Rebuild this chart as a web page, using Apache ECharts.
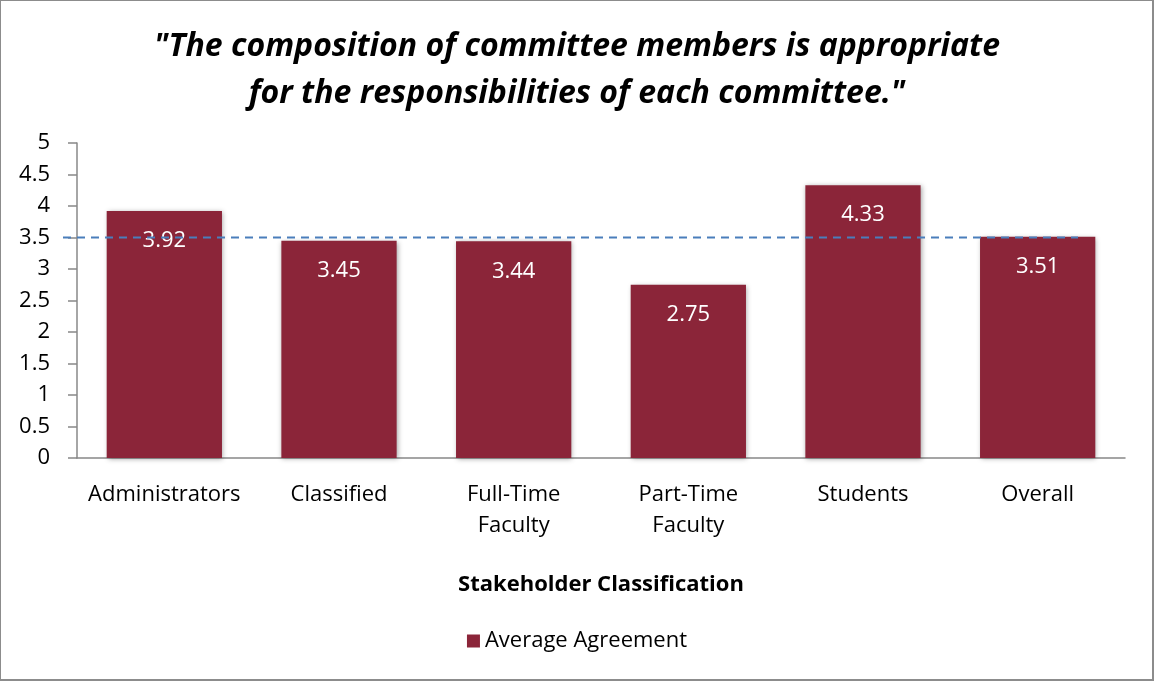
<!DOCTYPE html>
<html><head><meta charset="utf-8">
<script src="https://cdn.jsdelivr.net/npm/echarts@6/dist/echarts.min.js"></script>
<style>
html,body{margin:0;padding:0;background:#fff;}
#frame{position:absolute;left:0;top:0;width:1151px;height:678px;border:1px solid #8c8c8c;border-right:2px solid #8c8c8c;border-bottom:2px solid #8c8c8c;box-sizing:content-box;}
#c{width:1154px;height:681px;position:absolute;left:0;top:0;}
</style></head>
<body><div id="c"></div><div id="frame"></div>
<script>
var categories = ['Administrators','Classified','Full-Time\nFaculty','Part-Time\nFaculty','Students','Overall'];
var values = [3.92, 3.45, 3.44, 2.75, 4.33, 3.51];
var yTicks = [0,0.5,1,1.5,2,2.5,3,3.5,4,4.5,5];
var refValue = 3.5;
var seriesName = 'Average Agreement';
var titleLines = ['"The composition of committee members is appropriate', 'for the responsibilities of each committee."'];
var xAxisTitle = 'Stakeholder Classification';

var FONT = '"Open Sans", sans-serif';
var chart = echarts.init(document.getElementById('c'));
chart.setOption({
  animation:false,
  textStyle:{fontFamily:FONT},
  title:{text:titleLines.join('\n'),left:'center',top:18,
    textStyle:{fontFamily:FONT,fontSize:32,fontWeight:'bold',fontStyle:'italic',color:'#000',lineHeight:47}},
  legend:{bottom:24,left:'center',itemWidth:13,itemHeight:13,icon:'rect',itemGap:6,
    textStyle:{fontFamily:FONT,fontSize:22,color:'#000'},data:[seriesName]},
  grid:{left:77,right:29,top:143,bottom:223,containLabel:false},
  xAxis:{type:'category',data:categories,
    name:xAxisTitle,nameLocation:'middle',nameGap:116,
    nameTextStyle:{fontFamily:FONT,fontSize:22,fontWeight:'bold',color:'#000'},
    axisLine:{lineStyle:{color:'#888',width:1.5}},axisTick:{show:false},
    axisLabel:{fontFamily:FONT,fontSize:22,color:'#000',margin:21,lineHeight:31,interval:0}},
  yAxis:{type:'value',min:0,max:5,interval:0.5,
    axisLine:{show:true,lineStyle:{color:'#888',width:1.5}},
    axisTick:{show:true,inside:false,length:9,lineStyle:{color:'#888',width:1.5}},
    splitLine:{show:false},
    axisLabel:{fontFamily:FONT,fontSize:22,color:'#000',margin:27,
      formatter:function(v){return yTicks.indexOf(v)>=0?String(v):'';}}},
  series:[{name:seriesName,type:'bar',data:values,barCategoryGap:'34%',
    itemStyle:{color:'#8B2539',shadowBlur:5,shadowColor:'rgba(0,0,0,0.35)',shadowOffsetX:1,shadowOffsetY:1},
    label:{show:true,position:'insideTop',distance:19,color:'#fff',fontFamily:FONT,fontSize:22,
      formatter:function(p){return p.value.toFixed(2);}}}]
});
function drawRef(){
  var y = chart.convertToPixel({yAxisIndex:0}, refValue);
  chart.setOption({graphic:[{type:'line',z:100,shape:{x1:63,y1:y,x2:1078,y2:y},
    style:{stroke:'#4A7EBB',lineWidth:2,lineDash:[8,6]}}]});
}
drawRef();
</script></body></html>
